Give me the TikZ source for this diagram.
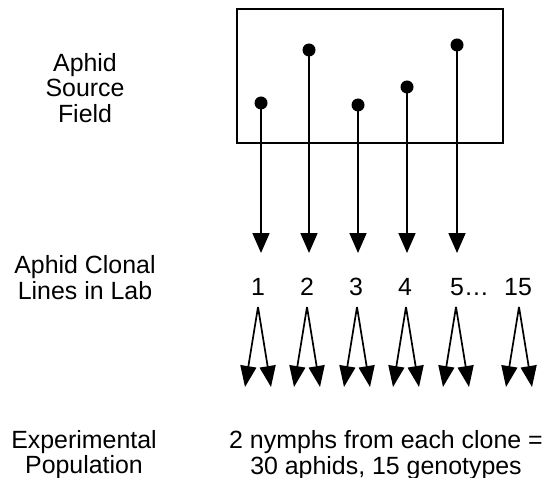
\documentclass[tikz,border=0pt]{standalone}
\usepackage{fontspec}
\setmainfont{Liberation Sans}
\usetikzlibrary{arrows.meta}
\begin{document}
\begin{tikzpicture}[x=1bp,y=-1bp,
  lbl/.style={font=\fontsize{25}{25.5}\selectfont, align=center, inner sep=0pt},
  num/.style={font=\fontsize{25}{25.5}\selectfont, inner sep=0pt},
  dot/.style={circle, fill=black, minimum size=13bp, inner sep=0pt},
  field/.style={draw=black, line width=1.6bp},
  bigarr/.style={line width=1.7bp, -{Triangle[width=17bp,length=20bp]}},
  smallarr/.style={line width=1.7bp, -{Triangle[width=16bp,length=21bp]}}]
\useasboundingbox (0,0) rectangle (552,478);
% source field box
\draw[field] (237,9) rectangle (503,143);
% labels
\node[lbl] (src) at (85,88) {Aphid\\Source\\Field};
\node[lbl] (clon) at (85,277.5) {Aphid Clonal\\Lines in Lab};
\node[lbl] (exp) at (84,454.5) {Experimental\\Population};
\node[lbl] (res) at (386,455) {2 nymphs from each clone =\\30 aphids, 15 genotypes};
% dots
\node[dot] (d1) at (261,103) {};
\node[dot] (d2) at (309,50) {};
\node[dot] (d3) at (358,105) {};
\node[dot] (d4) at (407,87) {};
\node[dot] (d5) at (457,45) {};
% arrow tips
\coordinate (t1) at (261,253);
\coordinate (t2) at (309,253);
\coordinate (t3) at (358,253);
\coordinate (t4) at (407,253);
\coordinate (t5) at (457,253);
\foreach \i in {1,...,5} \draw[bigarr] (d\i.center) -- (t\i);
% numbers
\node[num] (n1) at (258,287) {1};
\node[num] (n2) at (307,287) {2};
\node[num] (n3) at (356,287) {3};
\node[num] (n4) at (405,287) {4};
\node[num,anchor=west] (n5) at (450,287) {5\dots};
\node[num] (n6) at (518,287) {15};
% apexes of split arrows
\coordinate (a1) at (258,307);
\coordinate (a2) at (307,307);
\coordinate (a3) at (357,307);
\coordinate (a4) at (406,307);
\coordinate (a5) at (456,307);
\coordinate (a6) at (519,307);
\foreach \i in {1,...,6} {
  \draw[smallarr] (a\i) -- ++(-13,80);
  \draw[smallarr] (a\i) -- ++(13,80);
}
\end{tikzpicture}
\end{document}
